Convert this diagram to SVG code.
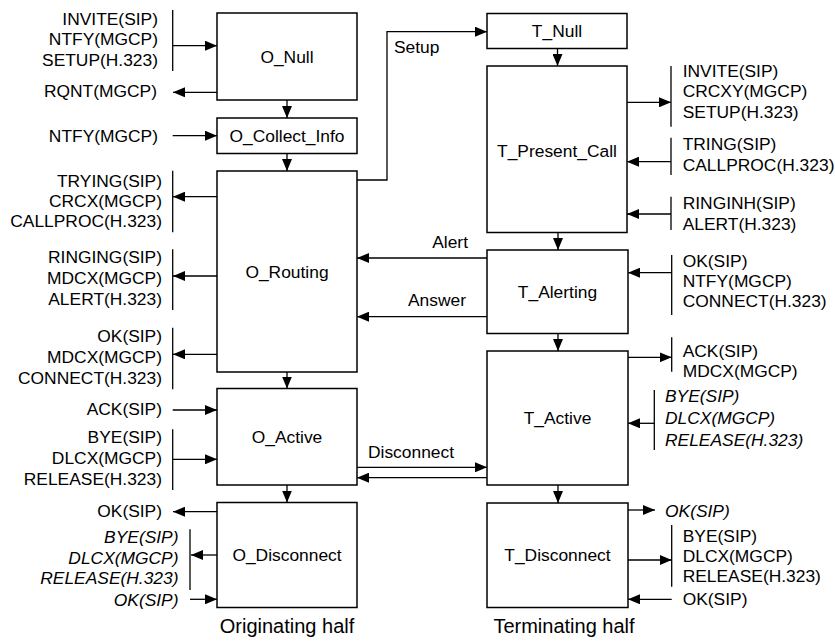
<svg xmlns="http://www.w3.org/2000/svg" width="835" height="642" viewBox="0 0 835 642">
<defs>
<marker id="ah" markerWidth="12" markerHeight="10" refX="12" refY="5" orient="auto" markerUnits="userSpaceOnUse">
<path d="M0,0 L12,5 L0,10 z" fill="#000"/>
</marker>
<style>
text{font-family:"Liberation Sans",Arial,sans-serif;font-size:17.4px;fill:#000}
.e{text-anchor:end}
.m{text-anchor:middle}
.i{font-style:italic}
.t{font-size:20px}
.box{fill:#fff;stroke:#000;stroke-width:1.5}
.ln{fill:none;stroke:#000;stroke-width:1.3}
.ar{fill:none;stroke:#000;stroke-width:1.3;marker-end:url(#ah)}
</style>
</defs>
<rect width="835" height="642" fill="#fff"/>

<g id="O_Null"><rect class="box" x="217" y="13" width="140" height="87"/><text class="m" x="287" y="62.5">O_Null</text></g>
<g id="O_Collect_Info"><rect class="box" x="217" y="118" width="140" height="35.5"/><text class="m" x="287" y="141.5">O_Collect_Info</text></g>
<g id="O_Routing"><rect class="box" x="217" y="171" width="140" height="201"/><text class="m" x="287" y="278">O_Routing</text></g>
<g id="O_Active"><rect class="box" x="217" y="388.5" width="140" height="96.5"/><text class="m" x="287" y="443">O_Active</text></g>
<g id="O_Disconnect"><rect class="box" x="217" y="502.5" width="140" height="105"/><text class="m" x="287" y="561">O_Disconnect</text></g>

<g id="T_Null"><rect class="box" x="487" y="13.5" width="140" height="35"/><text class="m" x="557" y="37">T_Null</text></g>
<g id="T_Present_Call"><rect class="box" x="487" y="66" width="140" height="166.5"/><text class="m" x="557" y="156.5">T_Present_Call</text></g>
<g id="T_Alerting"><rect class="box" x="487" y="250" width="141" height="83.5"/><text class="m" x="557.5" y="298">T_Alerting</text></g>
<g id="T_Active"><rect class="box" x="487" y="351" width="141" height="134"/><text class="m" x="557.5" y="424">T_Active</text></g>
<g id="T_Disconnect"><rect class="box" x="487" y="503" width="141" height="104.5"/><text class="m" x="557.5" y="561">T_Disconnect</text></g>

<g id="connectors">
<path class="ar" d="M287,100 V118"/>
<path class="ar" d="M287,153.5 V171"/>
<path class="ar" d="M287,372 V388.5"/>
<path class="ar" d="M287,485 V502.5"/>
<path class="ar" d="M557.5,48.5 V66"/>
<path class="ar" d="M558,232.5 V250"/>
<path class="ar" d="M558,333.5 V351"/>
<path class="ar" d="M558,485 V503"/>
<path class="ar" d="M357,180 H387 V31.7 H487"/>
<text x="394" y="53">Setup</text>
<path class="ar" d="M487,258 H357"/>
<text class="e" x="468" y="248">Alert</text>
<path class="ar" d="M487,316.7 H357"/>
<text class="e" x="466" y="306">Answer</text>
<path class="ar" d="M357,467.3 H487"/>
<path class="ar" d="M487,477.7 H357"/>
<text x="368" y="458">Disconnect</text>

<path class="ln" d="M172.7,10 V71"/>
<path class="ar" d="M172.7,45.7 H217"/>
<text class="e" x="158" y="25">INVITE(SIP)</text>
<text class="e" x="158" y="45.3">NTFY(MGCP)</text>
<text class="e" x="158" y="65.6">SETUP(H.323)</text>

<path class="ar" d="M217,92.3 H173"/>
<text class="e" x="157" y="96.7">RQNT(MGCP)</text>

<path class="ar" d="M172.7,135.7 H217"/>
<text class="e" x="158" y="141.7">NTFY(MGCP)</text>

<path class="ln" d="M172.7,170.7 V232.3"/>
<path class="ar" d="M217,196.7 H173"/>
<text class="e" x="162" y="186.6">TRYING(SIP)</text>
<text class="e" x="162" y="206.6">CRCX(MGCP)</text>
<text class="e" x="162" y="226.7">CALLPROC(H.323)</text>

<path class="ln" d="M172.7,249.3 V310"/>
<path class="ar" d="M217,276 H173"/>
<text class="e" x="162" y="263.4">RINGING(SIP)</text>
<text class="e" x="162" y="284.3">MDCX(MGCP)</text>
<text class="e" x="162" y="305">ALERT(H.323)</text>

<path class="ln" d="M172.7,327.7 V389.3"/>
<path class="ar" d="M217,354.3 H173"/>
<text class="e" x="162" y="342">OK(SIP)</text>
<text class="e" x="162" y="363.3">MDCX(MGCP)</text>
<text class="e" x="162" y="384.3">CONNECT(H.323)</text>

<path class="ar" d="M172.7,410 H217"/>
<text class="e" x="162" y="415">ACK(SIP)</text>

<path class="ln" d="M172.7,429.3 V490"/>
<path class="ar" d="M172.7,459.3 H217"/>
<text class="e" x="162" y="443.3">BYE(SIP)</text>
<text class="e" x="162" y="464">DLCX(MGCP)</text>
<text class="e" x="162" y="485">RELEASE(H.323)</text>

<path class="ar" d="M217,511.7 H173"/>
<text class="e" x="162" y="517.3">OK(SIP)</text>

<path class="ln" d="M190,529.3 V590"/>
<path class="ar" d="M217,555 H191"/>
<text class="e i" x="178.5" y="543.3">BYE(SIP)</text>
<text class="e i" x="178.5" y="564.3">DLCX(MGCP)</text>
<text class="e i" x="178.5" y="584.3">RELEASE(H.323)</text>

<path class="ar" d="M190,599.3 H217"/>
<text class="e i" x="178.5" y="606">OK(SIP)</text>

<path class="ln" d="M671,66 V126.7"/>
<path class="ar" d="M627,102.3 H671"/>
<text x="682.7" y="76.8">INVITE(SIP)</text>
<text x="682.7" y="97.3">CRCXY(MGCP)</text>
<text x="682.7" y="117.7">SETUP(H.323)</text>

<path class="ln" d="M671,137.7 V175"/>
<path class="ar" d="M671,161.7 H627"/>
<text x="682.7" y="150">TRING(SIP)</text>
<text x="682.7" y="170.7">CALLPROC(H.323)</text>

<path class="ln" d="M671,196.7 V230"/>
<path class="ar" d="M671,214 H627"/>
<text x="682.7" y="209.3">RINGINH(SIP)</text>
<text x="682.7" y="229.7">ALERT(H.323)</text>

<path class="ln" d="M671.7,255 V315"/>
<path class="ar" d="M671.7,272.7 H628"/>
<text x="682.7" y="266.7">OK(SIP)</text>
<text x="682.7" y="286.9">NTFY(MGCP)</text>
<text x="682.7" y="307.3">CONNECT(H.323)</text>

<path class="ln" d="M671.7,337.3 V371.7"/>
<path class="ar" d="M628,357.3 H671.7"/>
<text x="682.7" y="357">ACK(SIP)</text>
<text x="682.7" y="376.7">MDCX(MGCP)</text>

<path class="ln" d="M654.3,390 V450"/>
<path class="ar" d="M654.3,423.3 H628"/>
<text class="i" x="665" y="402">BYE(SIP)</text>
<text class="i" x="665" y="424">DLCX(MGCP)</text>
<text class="i" x="665" y="446">RELEASE(H.323)</text>

<path class="ar" d="M628,510 H655"/>
<text class="i" x="665" y="516.5">OK(SIP)</text>

<path class="ln" d="M671.7,525 V586.7"/>
<path class="ar" d="M628,560 H671.7"/>
<text x="682.7" y="541.7">BYE(SIP)</text>
<text x="682.7" y="561.7">DLCX(MGCP)</text>
<text x="682.7" y="581.7">RELEASE(H.323)</text>

<path class="ar" d="M671.7,599.3 H628"/>
<text x="682.7" y="605">OK(SIP)</text>
</g>

<text class="m t" x="287" y="633">Originating half</text>
<text class="m t" x="564" y="633">Terminating half</text>
</svg>
